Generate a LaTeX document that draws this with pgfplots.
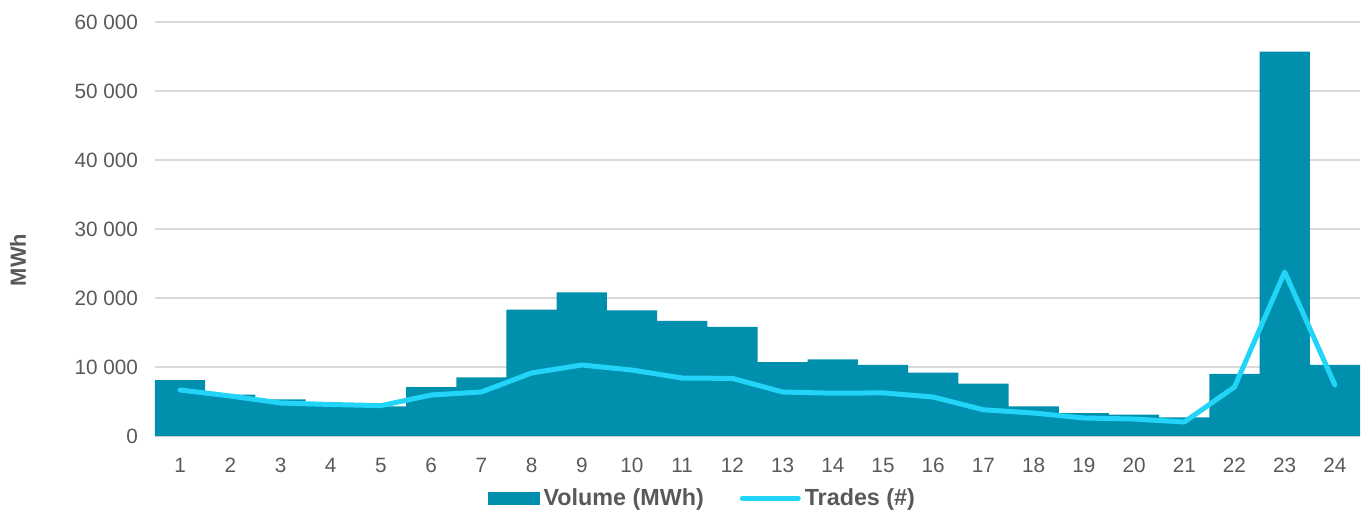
\documentclass[border=0pt]{standalone}
\usepackage{pgfplots}
\pgfplotsset{compat=1.18}
\usepackage{fontspec}
\setmainfont{Liberation Sans}
\definecolor{barc}{HTML}{0090AD}
\definecolor{linec}{HTML}{22D5F8}
\definecolor{txt}{HTML}{595959}
\definecolor{gridc}{HTML}{D9D9D9}
\begin{document}
\begin{tikzpicture}
\path[use as bounding box] (-77.5bp,-39.5bp) rectangle (606.5bp,218bp);
\begin{axis}[
  scale only axis,
  width=602.5bp, height=207bp,
  xmin=0.5, xmax=24.5,
  ymin=0, ymax=60000,
  xtick={1,...,24},
  ytick={0,10000,20000,30000,40000,50000,60000},
  yticklabels={0,10 000,20 000,30 000,40 000,50 000,60 000},
  scaled y ticks=false,
  /pgf/number format/assume math mode=true,
  axis x line*=bottom,
  axis y line*=left,
  y axis line style={draw=none},
  x axis line style={draw=gridc, line width=0.9bp},
  major tick length=0pt,
  ymajorgrids,
  grid style={draw=gridc, line width=0.9bp},
  tick label style={font=\fontsize{10.4}{12}\selectfont, text=txt},
  yticklabel style={anchor=east, xshift=-5bp},
  tick style={draw=none},
  xticklabel style={yshift=-7.5bp},
  ylabel={MWh},
  ylabel style={at={(axis description cs:-0.1137,0.425)}, anchor=center, font=\bfseries\fontsize{11}{13}\selectfont, text=txt},
  legend style={draw=none, fill=none, at={(0.455,-0.15)}, anchor=center,
    legend columns=2, font=\bfseries\fontsize{11.7}{14}\selectfont, text=txt,
    /tikz/every even column/.append style={column sep=16bp},
    nodes={inner sep=2bp}},
  clip=false,
]
\addplot[ybar, bar width=1, fill=barc, draw=none,
  legend image code/.code={\fill[barc] (0bp,-3.25bp) rectangle (26bp,3.25bp);}]
  coordinates {
  (1,8100) (2,6000) (3,5300) (4,4500) (5,4300) (6,7100) (7,8500) (8,18300)
  (9,20800) (10,18200) (11,16700) (12,15800) (13,10700) (14,11100) (15,10300)
  (16,9200) (17,7600) (18,4300) (19,3300) (20,3100) (21,2700) (22,9000)
  (23,55700) (24,10300)};
\addlegendentry{Volume (MWh)}
\addplot[sharp plot, color=linec, line width=2.5bp, line join=round, line cap=round, mark=none,
  legend image code/.code={\draw[linec, line width=2.5bp, line cap=round] (0bp,0bp) -- (28bp,0bp);}]
  coordinates {
  (1,6670) (2,5800) (3,4780) (4,4570) (5,4400) (6,5940) (7,6380) (8,9130)
  (9,10290) (10,9560) (11,8400) (12,8350) (13,6380) (14,6200) (15,6250)
  (16,5650) (17,3800) (18,3330) (19,2610) (20,2460) (21,2030) (22,7100)
  (23,23770) (24,7390)};
\addlegendentry{Trades (\#)}
\end{axis}
\end{tikzpicture}
\end{document}
